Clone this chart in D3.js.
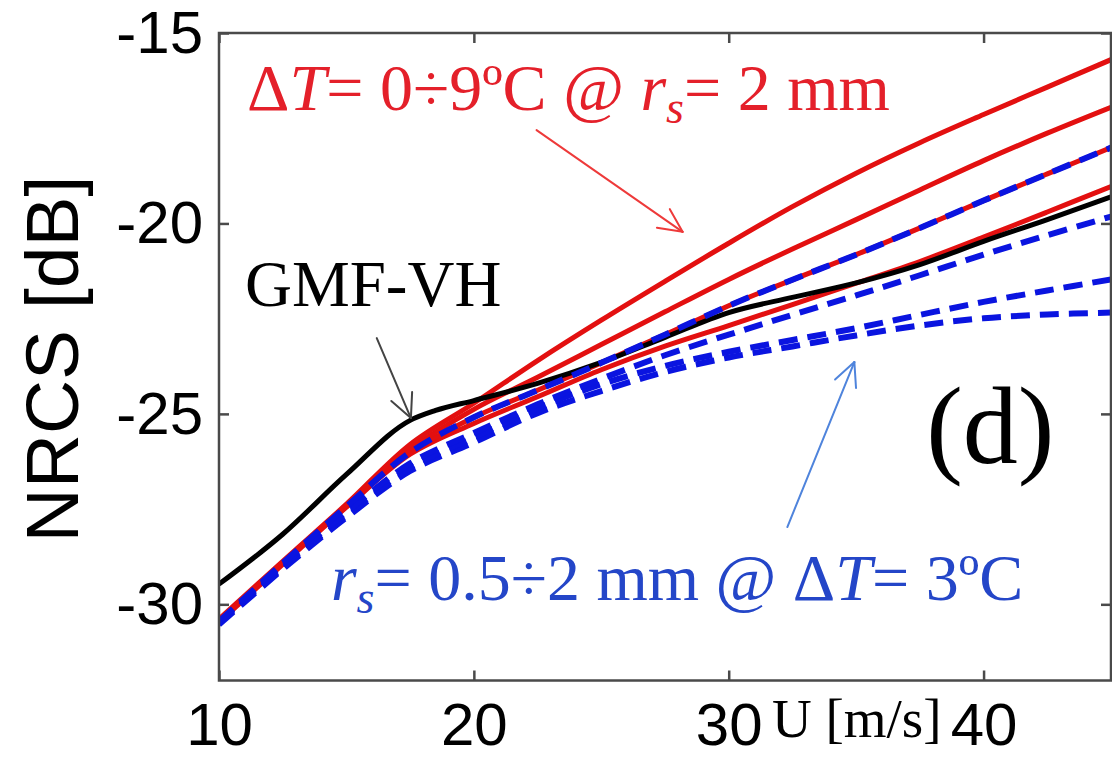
<!DOCTYPE html>
<html>
<head>
<meta charset="utf-8">
<script src="https://cdn.jsdelivr.net/npm/d3@7"></script>
<style>
  html, body { margin: 0; padding: 0; background: #fff; }
  svg { display: block; }
</style>
</head>
<body>
<svg id="chart" width="1112" height="758"></svg>
<script>
// Wind speed grid [m/s]
const windSpeed = [10, 12.5, 15, 17.5, 20, 22.5, 25, 27.5, 30, 32.5, 35, 37.5, 40, 42.5, 45];

// GMF-VH reference model (own grid, to keep the knee near 17.5 m/s)
const gmfU  = [10, 12.5, 15, 17.5, 18.5, 20, 22.5, 25, 27.5, 30, 32.5, 35, 37.5, 40, 42.5, 45];
const gmfVH = [-29.47, -28.16, -26.59, -25.17, -24.91, -24.65, -24.20, -23.65, -22.99, -22.34, -21.94, -21.56, -21.08, -20.47, -19.90, -19.30];

// Model NRCS [dB], r_s = 2 mm, air-sea temperature difference 0, 3, 6, 9 ºC
const nrcsDT0 = [-30.47, -28.95, -27.45, -26.06, -25.25, -24.55, -23.84, -23.22, -22.68, -22.13, -21.57, -21.00, -20.36, -19.70, -19.03];
const nrcsDT3 = [-30.45, -28.92, -27.43, -26.01, -25.09, -24.38, -23.66, -22.92, -22.16, -21.48, -20.82, -20.12, -19.40, -18.70, -18.01];
const nrcsDT6 = [-30.42, -28.90, -27.40, -25.93, -24.88, -24.04, -23.18, -22.32, -21.47, -20.67, -19.90, -19.12, -18.35, -17.63, -16.95];
const nrcsDT9 = [-30.39, -28.87, -27.37, -25.80, -24.72, -23.60, -22.54, -21.52, -20.52, -19.56, -18.68, -17.88, -17.14, -16.42, -15.70];

// Model NRCS [dB], ΔT = 3 ºC, breaker radius r_s = 0.5, 1, 1.5, 2 mm
const nrcsRs05 = [-30.53, -29.08, -27.72, -26.50, -25.75, -24.98, -24.40, -23.90, -23.52, -23.23, -22.94, -22.68, -22.49, -22.39, -22.34];
const nrcsRs10 = [-30.50, -29.03, -27.66, -26.42, -25.62, -24.85, -24.22, -23.74, -23.37, -23.06, -22.75, -22.40, -22.06, -21.76, -21.47];
const nrcsRs15 = [-30.47, -28.98, -27.58, -26.30, -25.50, -24.75, -24.08, -23.46, -22.92, -22.40, -21.89, -21.36, -20.82, -20.31, -19.82];
const nrcsRs20 = [-30.45, -28.92, -27.43, -26.01, -25.09, -24.38, -23.66, -22.92, -22.16, -21.48, -20.82, -20.12, -19.40, -18.70, -18.01];

// Axis ticks
const xTicks = [10, 20, 30, 40];
const yTicks = [-30, -25, -20, -15];

const svg = d3.select("#chart");
const plotLeft = 219, plotRight = 1111, plotTop = 33, plotBottom = 680.5;

const x = d3.scaleLinear().domain([10, 45]).range([plotLeft, plotRight]);
const y = d3.scaleLinear().domain([-32, -15]).range([plotBottom, plotTop]);

const SANS = "'Liberation Sans', Arial, Helvetica, sans-serif";
const SERIF = "'Liberation Serif', 'Times New Roman', Times, serif";

svg.append("defs").append("clipPath").attr("id", "plotClip")
  .append("rect").attr("x", plotLeft).attr("y", plotTop)
  .attr("width", plotRight - plotLeft).attr("height", plotBottom - plotTop);

const plot = svg.append("g").attr("clip-path", "url(#plotClip)");

const smooth = d3.line()
  .x(d => x(d[0])).y(d => y(d[1]))
  .curve(d3.curveCatmullRom.alpha(0.5));
const kneed = d3.line()
  .x(d => x(d[0])).y(d => y(d[1]))
  .curve(d3.curveMonotoneX);

const pairs = (us, vs) => us.map((u, i) => [u, vs[i]]);

// red: temperature-difference family
[nrcsDT0, nrcsDT3, nrcsDT6, nrcsDT9].forEach(vs => {
  plot.append("path")
    .attr("d", smooth(pairs(windSpeed, vs)))
    .attr("fill", "none")
    .attr("stroke", "#e31010")
    .attr("stroke-width", 5)
    .attr("stroke-linejoin", "round");
});

// black: GMF-VH
plot.append("path")
  .attr("d", kneed(pairs(gmfU, gmfVH)))
  .attr("fill", "none")
  .attr("stroke", "#000")
  .attr("stroke-width", 5)
  .attr("stroke-linejoin", "round");

// blue dashed: breaker radius family
[nrcsRs05, nrcsRs10, nrcsRs15, nrcsRs20].forEach(vs => {
  plot.append("path")
    .attr("d", smooth(pairs(windSpeed, vs)))
    .attr("fill", "none")
    .attr("stroke", "#0a14e0")
    .attr("stroke-width", 6)
    .attr("stroke-dasharray", "19,10");
});

// frame
svg.append("rect")
  .attr("x", plotLeft).attr("y", plotTop)
  .attr("width", plotRight - plotLeft).attr("height", plotBottom - plotTop)
  .attr("fill", "none").attr("stroke", "#4a4a4a").attr("stroke-width", 2.5);

// axes with inward ticks
const styleAxis = g => {
  g.select(".domain").remove();
  g.selectAll(".tick line").attr("stroke", "#4a4a4a").attr("stroke-width", 2.5);
  g.selectAll(".tick text").attr("fill", "#000")
    .style("font-family", SANS).style("font-size", "60px");
};

svg.append("g").attr("transform", `translate(0,${plotBottom})`)
  .call(d3.axisBottom(x).tickValues(xTicks).tickSize(-10).tickPadding(22).tickFormat(d3.format("d")))
  .call(styleAxis);
svg.append("g").attr("transform", `translate(0,${plotTop})`)
  .call(d3.axisTop(x).tickValues(xTicks).tickSize(-10).tickFormat(""))
  .call(styleAxis);
svg.append("g").attr("transform", `translate(${plotLeft},0)`)
  .call(d3.axisLeft(y).tickValues(yTicks).tickSize(-10).tickPadding(16).tickFormat(d => d3.format("d")(d).replace("−", "-")))
  .call(styleAxis);
svg.append("g").attr("transform", `translate(${plotRight},0)`)
  .call(d3.axisRight(y).tickValues(yTicks).tickSize(-10).tickFormat(""))
  .call(styleAxis);

// axis titles
svg.append("text")
  .attr("transform", `translate(78,359) rotate(-90)`)
  .attr("text-anchor", "middle")
  .style("font-family", SANS).style("font-size", "75px")
  .attr("fill", "#000")
  .text("NRCS [dB]");

svg.append("text")
  .attr("x", 772).attr("y", 737)
  .style("font-family", SERIF).style("font-size", "55px")
  .attr("fill", "#000")
  .text("U [m/s]");

// annotation helpers
function arrow(from, to, color) {
  const x0 = x(from[0]), y0 = y(from[1]), x1 = x(to[0]), y1 = y(to[1]);
  const ang = Math.atan2(y1 - y0, x1 - x0);
  const len = 26, spread = 0.45;
  const g = svg.append("g").attr("stroke", color).attr("stroke-width", 2)
    .attr("fill", "none").attr("stroke-linecap", "round");
  g.append("line").attr("x1", x0).attr("y1", y0).attr("x2", x1).attr("y2", y1);
  [-spread, spread].forEach(s => {
    g.append("line").attr("x1", x1).attr("y1", y1)
      .attr("x2", x1 - len * Math.cos(ang + s))
      .attr("y2", y1 - len * Math.sin(ang + s));
  });
}

function label(pos, color, size, parts) {
  const t = svg.append("text")
    .attr("x", x(pos[0])).attr("y", y(pos[1]))
    .style("font-family", SERIF).style("font-size", size + "px")
    .attr("fill", color);
  let shift = 0;
  parts.forEach(p => {
    const ts = t.append("tspan").text(p.t);
    if (p.i) ts.style("font-style", "italic");
    const want = p.sub ? Math.round(size * 0.2) : 0;
    if (want !== shift) { ts.attr("dy", want - shift); shift = want; }
    if (p.sub) ts.style("font-size", Math.round(size * 0.7) + "px");
  });
  return t;
}

// ΔT family
label([11.1, -17.02], "#e4202a", 66, [
  { t: "Δ" }, { t: "T", i: true }, { t: "= 0÷9ºC @ " },
  { t: "r", i: true }, { t: "s", i: true, sub: true }, { t: "= 2 mm" }
]);
arrow([22.46, -17.55], [28.19, -20.22], "#ee3a3a");

// GMF-VH
label([11.02, -22.17], "#000", 65, [{ t: "GMF-VH" }]);
arrow([16.19, -23.01], [17.53, -25.11], "#444");

// r_s family
label([14.39, -29.89], "#2446c8", 66, [
  { t: "r", i: true }, { t: "s", i: true, sub: true }, { t: "= 0.5÷2 mm @ Δ" },
  { t: "T", i: true }, { t: "= 3ºC" }
]);
arrow([32.30, -27.97], [34.93, -23.64], "#4f84dc");

// panel letter
label([37.75, -26.29], "#000", 110, [{ t: "(d)" }]);
</script>
</body>
</html>
